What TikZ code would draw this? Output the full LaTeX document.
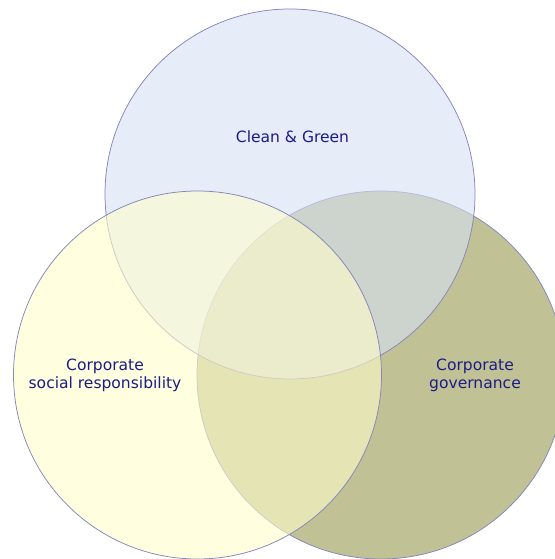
\documentclass[tikz,border=0pt]{standalone}
\usepackage{fontspec}
\setmainfont{DejaVu Sans}
\definecolor{ringline}{HTML}{8686BA}
\definecolor{labelblue}{HTML}{1C1C86}
\definecolor{greenfill}{RGB}{213,223,243}
\definecolor{socialfill}{RGB}{255,255,202}
\definecolor{govfill}{RGB}{193,193,150}
\begin{document}
\begin{tikzpicture}[x=1bp,y=-1bp,
  ring/.style={draw=ringline, line width=0.75bp},
  label/.style={text=labelblue, align=center, font=\fontsize{15.6}{18}\selectfont}]
\useasboundingbox (0,0) rectangle (555,559);
\begin{scope}
  \clip (0,0) rectangle (555,559);
  % governance circle (bottom right), drawn first and opaque
  \path[ring, fill=govfill] (381,375) circle[radius=184] coordinate (cgov);
  % clean & green circle (top), translucent over the governance one
  \path[ring, fill=greenfill, fill opacity=0.6] (290,194) circle[radius=185] coordinate (cgreen);
  % social responsibility circle (bottom left), on top of both
  \path[ring, fill=socialfill, fill opacity=0.58] (197.5,375) circle[radius=184] coordinate (csocial);
\end{scope}
\node[label] (green) at (292.5,137) {Clean \& Green};
\node[label] (social) at (105,375.5) {Corporate\\social responsibility};
\node[label] (gov) at (475,375.5) {Corporate\\governance};
\end{tikzpicture}
\end{document}
